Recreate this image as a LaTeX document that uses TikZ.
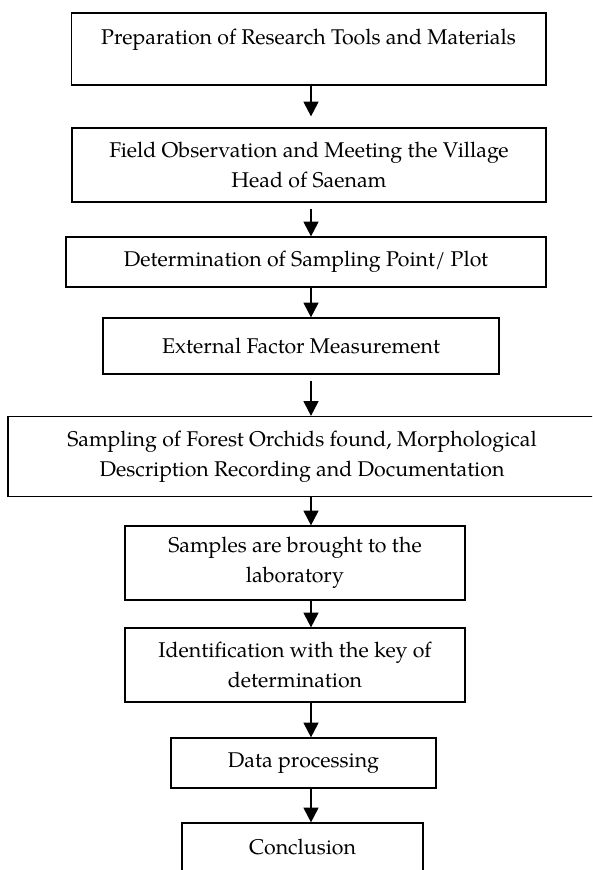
\documentclass[tikz,border=0pt]{standalone}
\usepackage{fontspec}
\setmainfont{TeX Gyre Pagella}
\usepackage{tikz}
\usetikzlibrary{arrows.meta}

\begin{document}
\begin{tikzpicture}[x=0.75pt,y=-0.75pt]
		\clip (0,0) rectangle (592,870);
		\coordinate (a) at (311,0);

		\begin{scope}[every node/.style={rectangle,draw,line width=1pt,align=center,inner sep=0pt,
		              font=\fontsize{16}{22.5}\selectfont}]
		    	\node[minimum width=356pt,minimum height=54pt,text height=11pt,text depth=18pt] (1) at (308.5,49) {Preparation of Research Tools and Materials};
			\node[minimum width=355.5pt,minimum height=55.5pt] (2) at (309,165) {Field Observation and Meeting the Village\\ Head of Saenam};
		    	\node[minimum width=360pt,minimum height=37.5pt] (3) at (306,262) {Determination of Sampling Point/ Plot};
			\node[minimum width=297pt,minimum height=42pt] (4) at (301,346) {External Factor Measurement};
		    	\node[minimum width=441pt,minimum height=60pt] (5) at (302,456.5) {Sampling of Forest Orchids found, Morphological\\ Description Recording and Documentation};
			\node[minimum width=255pt,minimum height=55.5pt] (6) at (295,563) {Samples are brought to the\\ laboratory};
			\node[minimum width=255pt,minimum height=55.5pt] (7) at (295,665) {Identification with the key of\\ determination};
			\node[minimum width=198.75pt,minimum height=37.5pt] (8) at (303.5,763) {Data processing};
			\node[minimum width=180.75pt,minimum height=36pt] (9) at (302.5,847) {Conclusion};
		\end{scope}

		\begin{scope}[>={Triangle[width=11.25pt,length=11pt]},
		              every edge/.style={draw=black,line width=0.9pt,->}]
			\path (1.south -| a) edge[shorten >=8.25pt] (2.north -| a);
			\path (2.south -| a) edge[shorten <=4.5pt] (3.north -| a);
			\path (3.south -| a) edge (4.north -| a);
			\path (4.south -| a) edge[shorten <=4.5pt] (5.north -| a);
			\path (5.south -| a) edge (6.north -| a);
			\path (6.south -| a) edge (7.north -| a);
			\path (7.south -| a) edge (8.north -| a);
			\path (8.south -| a) edge (9.north -| a);
		\end{scope}
\end{tikzpicture}
\end{document}
